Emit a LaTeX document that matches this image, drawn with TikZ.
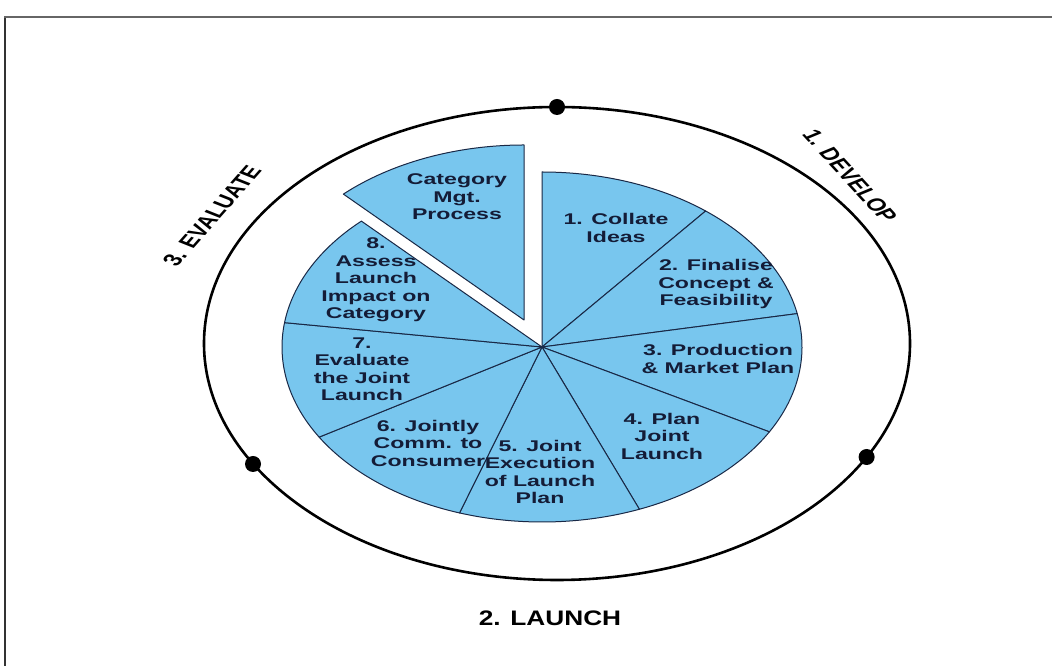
\documentclass[tikz,border=0pt]{standalone}
\usepackage{fontspec}
\usepackage{graphicx}
\setmainfont{Liberation Sans}
\newfontfamily\piefont[FakeStretch=1.49]{Liberation Sans}
\newfontfamily\launchfont[FakeStretch=1.25]{Liberation Sans}
\newfontfamily\phasefont{Liberation Sans Bold}
\definecolor{pieblue}{RGB}{120,198,238}
\definecolor{pieline}{RGB}{25,40,70}
\definecolor{pietext}{RGB}{20,28,55}
\begin{document}
\begin{tikzpicture}[x=1pt,y=1pt,
  sector/.style={fill=pieblue, draw=pieline, line width=1pt, line join=round},
  ptxt/.style={align=center, text=pietext, inner sep=0pt,
    font=\piefont\bfseries\fontsize{15.5}{17.5}\selectfont},
  ring/.style={draw=black, line width=2.6pt},
  knot/.style={circle, fill=black, minimum size=16pt, inner sep=0pt},
  phase/.style={inner sep=0pt, text=black}]
\useasboundingbox (0,0) rectangle (1052,666);
\fill[white] (0,0) rectangle (1052,666);
% frame
\draw[line width=1.3pt, black!80] (5,0) -- (5,649);
\draw[line width=2.6pt, black!60] (4,649) -- (1052,649);
% outer ring
\coordinate (C) at (557,322.5);
\draw[ring] (C) ellipse[x radius=353pt, y radius=236.5pt];
\node[knot] (k1) at (557,559) {};
\node[knot] (k2) at (253,202) {};
\node[knot] (k3) at (866.6,209) {};
% pie
\coordinate (O) at (542,319);
\foreach \a/\b in {90/51, 51/11, 11/-29, -29/-68, -68/-108.5, -108.5/-149, -149/-188, -188/-226}
  \path[sector] (O) -- ++(\a:260pt and 175pt)
     arc[start angle=\a, end angle=\b, x radius=260pt, y radius=175pt] -- cycle;
\coordinate (O2) at (524,346);
\path[sector] (O2) -- ++(134:260pt and 175pt)
     arc[start angle=134, end angle=90, x radius=260pt, y radius=175pt] -- cycle;
% pie labels
\node[ptxt] (cm) at (457,469) {Category\\Mgt.\\Process};
\node[ptxt] (s1) at (616,438) {1. Collate\\Ideas};
\node[ptxt] (s2) at (716,382) {2. Finalise\\Concept \&\\Feasibility};
\node[ptxt] (s3) at (718,307) {3. Production\\\& Market Plan};
\node[ptxt] (s4) at (662,230) {4. Plan\\Joint\\Launch};
\node[ptxt] (s5) at (540,194) {5. Joint\\Execution\\of Launch\\Plan};
\node[ptxt] (s6) at (428,223) {6. Jointly\\Comm. to\\Consumer};
\node[ptxt] (s7) at (362,297) {7.\\Evaluate\\the Joint\\Launch};
\node[ptxt] (s8) at (376,386) {8.\\Assess\\Launch\\Impact on\\Category};
% phase labels
\node[phase] (ev) at (212,450) {\scalebox{1.49}[1]{\rotatebox{59.4}{\phasefont\fontsize{17.5}{20}\selectfont 3. EVALUATE}}};
\node[phase] (dv) at (850,490) {\scalebox{1.49}[1]{\rotatebox{-58.3}{\phasefont\fontsize{17.5}{20}\selectfont 1. DEVELOP}}};
\node[phase] (la) at (550,48) {\launchfont\bfseries\fontsize{21}{24}\selectfont 2. LAUNCH};
\end{tikzpicture}
\end{document}
